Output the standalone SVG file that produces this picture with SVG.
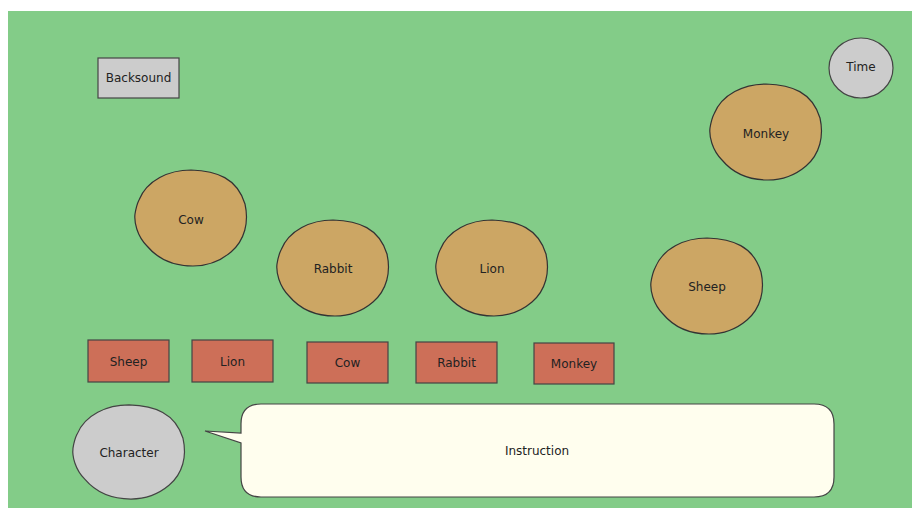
<svg xmlns="http://www.w3.org/2000/svg" xmlns:xlink="http://www.w3.org/1999/xlink" width="920" height="510" viewBox="0 0 920 510">
<style>
  .lbl{font-family:"DejaVu Sans","Liberation Sans",sans-serif;font-size:12px;fill:#222;text-anchor:middle;dominant-baseline:central}
  .blob{fill:#CCA664;stroke:#333;stroke-width:1.2}
  .card{fill:#CD6F58;stroke:#444;stroke-width:1.2}
  .gray{fill:#CCCCCC;stroke:#444;stroke-width:1.2}
</style>
<defs>
  <path id="blob" d="M -52,-18 C -44,-38 -22,-48 0,-48 C 26,-47 46,-40 54,-14 C 58,4 54,22 40,34 C 26,46 12,48 2,48 C -18,48 -34,40 -44,28 C -54,18 -57,4 -56,-4 C -55,-10 -54,-14 -52,-18 Z"/>
</defs>
<rect x="0" y="0" width="920" height="510" fill="#FFFFFF"/>
<rect x="8" y="11" width="904" height="497" fill="#83CC88"/>
<g id="connectors"></g>
<g id="backsound"><rect class="gray" x="98" y="58" width="81" height="40"/><text class="lbl" x="138.5" y="78">Backsound</text></g>
<g id="time"><ellipse class="gray" cx="861" cy="68" rx="32" ry="30"/><text class="lbl" x="861" y="67">Time</text></g>
<g id="blob-monkey"><use xlink:href="#blob" class="blob" transform="translate(766,132)"/><text class="lbl" x="766" y="134">Monkey</text></g>
<g id="blob-cow"><use xlink:href="#blob" class="blob" transform="translate(191,218)"/><text class="lbl" x="191" y="220">Cow</text></g>
<g id="blob-rabbit"><use xlink:href="#blob" class="blob" transform="translate(333,268)"/><text class="lbl" x="333" y="269">Rabbit</text></g>
<g id="blob-lion"><use xlink:href="#blob" class="blob" transform="translate(492,268)"/><text class="lbl" x="492" y="269">Lion</text></g>
<g id="blob-sheep"><use xlink:href="#blob" class="blob" transform="translate(707,286)"/><text class="lbl" x="707" y="287">Sheep</text></g>
<g id="card-sheep"><rect class="card" x="88" y="340" width="81" height="42"/><text class="lbl" x="128.5" y="362">Sheep</text></g>
<g id="card-lion"><rect class="card" x="192" y="340" width="81" height="42"/><text class="lbl" x="232.5" y="362">Lion</text></g>
<g id="card-cow"><rect class="card" x="307" y="342" width="81" height="41"/><text class="lbl" x="347.5" y="363">Cow</text></g>
<g id="card-rabbit"><rect class="card" x="416" y="342" width="81" height="41"/><text class="lbl" x="456.5" y="363">Rabbit</text></g>
<g id="card-monkey"><rect class="card" x="534" y="343" width="80" height="41"/><text class="lbl" x="574" y="364">Monkey</text></g>
<g id="character"><use xlink:href="#blob" class="gray" transform="translate(129,452) scale(1,0.98)"/><text class="lbl" x="129" y="453">Character</text></g>
<g id="instruction"><path d="M 261,404 L 814,404 Q 834,404 834,424 L 834,477 Q 834,497 814,497 L 261,497 Q 241,497 241,477 L 241,443 L 205,431 L 241,433 L 241,424 Q 241,404 261,404 Z" fill="#FFFEEE" stroke="#444" stroke-width="1.2"/><text class="lbl" x="537" y="451">Instruction</text></g>
</svg>
